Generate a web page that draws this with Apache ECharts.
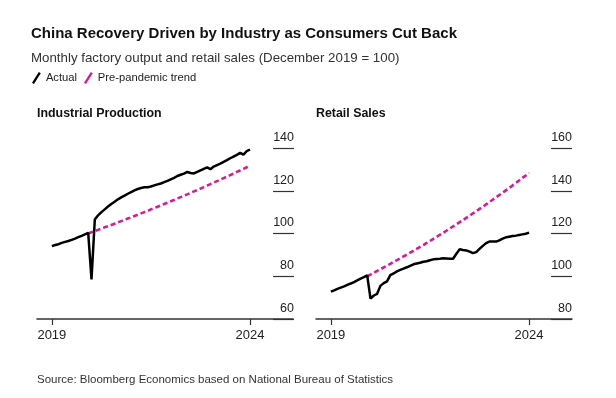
<!DOCTYPE html>
<html>
<head>
<meta charset="utf-8">
<script src="https://cdn.jsdelivr.net/npm/echarts@6/dist/echarts.min.js"></script>
<style>
  html, body { margin: 0; padding: 0; background: #fff; }
  #chart { width: 616px; height: 398px; }
</style>
</head>
<body>
<div id="chart"></div>
<script>
// months since Jan 2019; ticks at 0 (2019) and 60 (2024)
var yearTicks = [0, 60];
var yearLabels = ['2019', '2024'];
var trendStart = 11; // December 2019

// Industrial production, actual (Jan 2019 .. Jan 2024)
var industryActual = [
  94.1, 94.6, 95.0, 95.6, 96.1, 96.5, 97.0, 97.6, 98.3, 98.9, 99.6, 100.3,
  78.5, 106.5, 108.5, 110.0, 111.3, 112.6, 113.8, 114.9, 116.0, 116.9, 117.7, 118.6,
  119.4, 120.2, 120.8, 121.3, 121.6, 121.6, 122.0, 122.5, 123.0, 123.4, 124.0, 124.6,
  125.3, 126.0, 126.9, 127.5, 128.0, 128.8, 128.3, 128.1, 128.8, 129.5, 130.2, 130.9,
  130.1, 131.3, 132.0, 132.7, 133.5, 134.3, 135.2, 136.0, 136.8, 137.7, 136.9, 138.5,
  139.3
];
// Industrial production, pre-pandemic trend (Dec 2019 .. Jan 2024)
var industryTrend = [
  100.0, 100.6, 101.1, 101.7, 102.3, 102.9, 103.4, 104.0, 104.6, 105.2, 105.8, 106.4,
  107.0, 107.6, 108.2, 108.8, 109.4, 110.0, 110.6, 111.3, 111.9, 112.5, 113.1, 113.8,
  114.4, 115.1, 115.7, 116.4, 117.0, 117.7, 118.3, 119.0, 119.7, 120.3, 121.0, 121.7,
  122.4, 123.1, 123.8, 124.5, 125.2, 125.9, 126.6, 127.3, 128.0, 128.8, 129.5, 130.2,
  131.0, 131.7
];
// Retail sales, actual
var retailActual = [
  92.8, 93.4, 94.1, 94.7, 95.3, 96.0, 96.6, 97.3, 98.1, 98.9, 99.6, 100.4,
  89.5, 91.0, 91.8, 95.5, 96.8, 97.6, 100.5, 101.3, 102.3, 103.0, 103.6, 104.2,
  104.9, 105.6, 106.0, 106.3, 106.8, 107.0, 107.5, 107.9, 108.1, 108.2, 108.4, 108.3,
  108.2, 108.2, 110.5, 112.6, 112.3, 112.1, 111.5, 110.8, 111.3, 112.8, 114.2, 115.5,
  116.2, 116.2, 116.2, 116.8, 117.6, 118.2, 118.5, 118.8, 119.0, 119.3, 119.6, 119.9,
  120.4
];
// Retail sales, pre-pandemic trend
var retailTrend = [
  100.0, 100.8, 101.6, 102.5, 103.3, 104.1, 105.0, 105.8, 106.7, 107.5, 108.4, 109.3,
  110.1, 111.0, 111.9, 112.8, 113.7, 114.6, 115.6, 116.5, 117.5, 118.4, 119.4, 120.3,
  121.3, 122.3, 123.3, 124.3, 125.3, 126.3, 127.3, 128.3, 129.4, 130.4, 131.5, 132.5,
  133.6, 134.7, 135.8, 136.9, 138.0, 139.1, 140.2, 141.3, 142.5, 143.6, 144.8, 146.0,
  147.1, 148.3
];

var BLACK = '#000';
var PINK = '#d9189b';
var FONT = 'Liberation Sans, Arial, sans-serif';

function pairs(arr, offset) {
  return arr.map(function (v, i) { return [i + offset, v]; });
}

function xAxisFor(gridIndex) {
  return {
    type: 'value', gridIndex: gridIndex, min: -4.5, max: 73,
    splitLine: { show: false },
    axisLine: { show: true, onZero: false, lineStyle: { color: '#333', width: 1.5 } },
    axisTick: { show: true, customValues: yearTicks, length: 6, lineStyle: { color: '#333', width: 1.2 } },
    axisLabel: {
      customValues: yearTicks, margin: 10, color: '#222', fontSize: 13, fontFamily: FONT,
      formatter: function (v) { return yearLabels[yearTicks.indexOf(v)]; }
    }
  };
}

// hidden axis carrying the series
function yDataAxis(gridIndex, min, max) {
  return { type: 'value', gridIndex: gridIndex, min: min, max: max, interval: 20, show: false };
}

// narrow grid on the right: short gridlines + labels
function yTickAxis(gridIndex, min, max) {
  return {
    type: 'value', gridIndex: gridIndex, position: 'right', min: min, max: max, interval: 20,
    axisLine: { show: false },
    axisTick: { show: false },
    splitLine: { show: true, lineStyle: { color: '#333', width: 1.2 } },
    axisLabel: {
      inside: true, margin: 0, color: '#222', fontSize: 12.5, fontFamily: FONT,
      verticalAlign: 'bottom', padding: [0, 0, 4, 0]
    }
  };
}

function hiddenX(gridIndex) {
  return { type: 'value', gridIndex: gridIndex, min: 0, max: 1, show: false };
}

var slashIcon = 'path://M0,11 L7,0 L9,1.3 L2,12.3 Z';

var chart = echarts.init(document.getElementById('chart'));
chart.setOption({
  animation: false,
  backgroundColor: '#fff',
  title: [
    { text: 'China Recovery Driven by Industry as Consumers Cut Back', left: 26, top: 21,
      textStyle: { fontSize: 15, fontWeight: 'bold', color: '#111', fontFamily: FONT } },
    { text: 'Monthly factory output and retail sales (December 2019 = 100)', left: 26, top: 47,
      textStyle: { fontSize: 13.3, fontWeight: 'normal', color: '#333', fontFamily: FONT } },
    { text: 'Industrial Production', left: 32, top: 103,
      textStyle: { fontSize: 12.4, fontWeight: 'bold', color: '#111', fontFamily: FONT } },
    { text: 'Retail Sales', left: 311, top: 103,
      textStyle: { fontSize: 12.4, fontWeight: 'bold', color: '#111', fontFamily: FONT } },
    { text: 'Source: Bloomberg Economics based on National Bureau of Statistics', left: 32, top: 369,
      textStyle: { fontSize: 11.5, fontWeight: 'normal', color: '#333', fontFamily: FONT } }
  ],
  legend: {
    left: 27, top: 67, itemWidth: 9, itemHeight: 12, itemGap: 7,
    icon: slashIcon,
    textStyle: { fontSize: 11.2, color: '#222', fontFamily: FONT },
    data: [
      { name: 'Actual', itemStyle: { color: BLACK, borderWidth: 0 }, lineStyle: { width: 0 } },
      { name: 'Pre-pandemic trend', itemStyle: { color: PINK, borderWidth: 0 }, lineStyle: { width: 0 } }
    ]
  },
  grid: [
    { left: 37, width: 256, top: 148, height: 171 },
    { left: 316, width: 256, top: 148, height: 171 },
    { left: 273, width: 21, top: 148, height: 171 },
    { left: 551, width: 21, top: 148, height: 171 }
  ],
  xAxis: [xAxisFor(0), xAxisFor(1), hiddenX(2), hiddenX(3)],
  yAxis: [yDataAxis(0, 60, 140), yDataAxis(1, 80, 160), yTickAxis(2, 60, 140), yTickAxis(3, 80, 160)],
  series: [
    { name: 'Pre-pandemic trend', type: 'line', xAxisIndex: 0, yAxisIndex: 0, showSymbol: false,
      data: pairs(industryTrend, trendStart), itemStyle: { color: PINK },
      lineStyle: { color: PINK, width: 2.6, type: [5, 3] } },
    { name: 'Actual', type: 'line', xAxisIndex: 0, yAxisIndex: 0, showSymbol: false,
      data: pairs(industryActual, 0), itemStyle: { color: BLACK },
      lineStyle: { color: BLACK, width: 2.5 } },
    { name: 'Pre-pandemic trend', type: 'line', xAxisIndex: 1, yAxisIndex: 1, showSymbol: false,
      data: pairs(retailTrend, trendStart), itemStyle: { color: PINK },
      lineStyle: { color: PINK, width: 2.6, type: [5, 3] } },
    { name: 'Actual', type: 'line', xAxisIndex: 1, yAxisIndex: 1, showSymbol: false,
      data: pairs(retailActual, 0), itemStyle: { color: BLACK },
      lineStyle: { color: BLACK, width: 2.5 } }
  ]
});
</script>
</body>
</html>
